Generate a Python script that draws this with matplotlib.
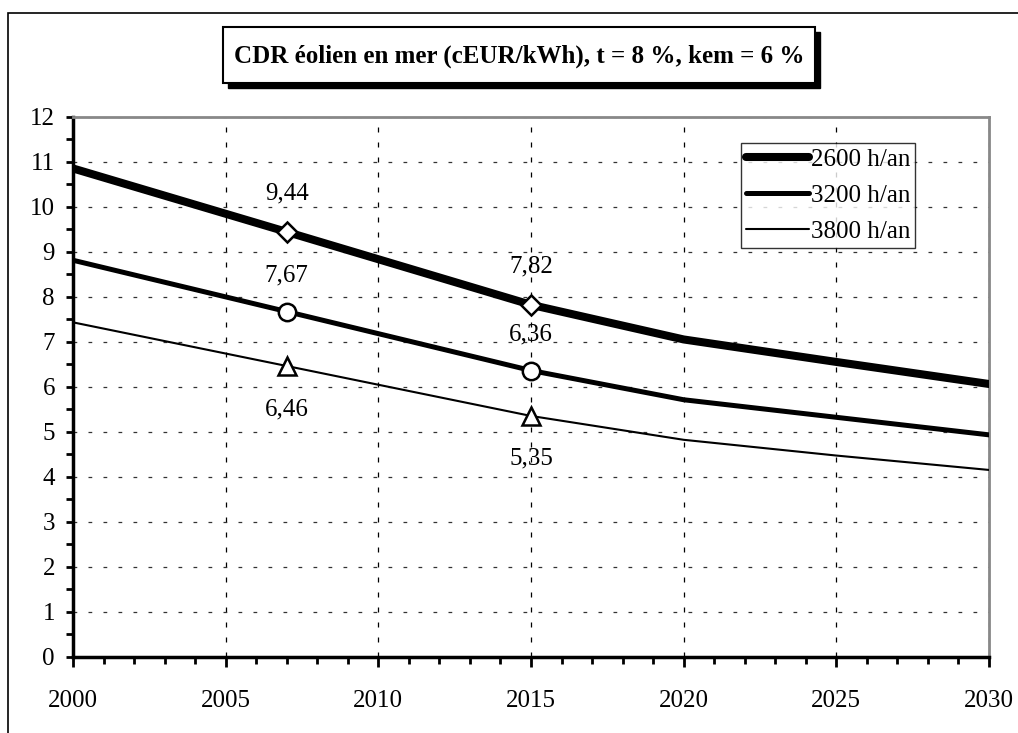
import matplotlib
matplotlib.use('Agg')
import matplotlib.pyplot as plt
from matplotlib.patches import Rectangle
from matplotlib.ticker import MultipleLocator

plt.rcParams['font.family'] = ['Liberation Serif', 'DejaVu Serif']

# données
annees = [2000, 2007, 2015, 2020, 2025, 2030]
cdr_2600 = [10.85, 9.44, 7.82, 7.05, 6.55, 6.06]
cdr_3200 = [8.81, 7.67, 6.36, 5.71, 5.32, 4.93]
cdr_3800 = [7.43, 6.46, 5.35, 4.82, 4.47, 4.15]
series_labels = ['2600 h/an', '3200 h/an', '3800 h/an']
annees_marquees = [2007, 2015]
titre = 'CDR éolien en mer (cEUR/kWh), t = 8 %, kem = 6 %'

W, H = 1018, 733
fig = plt.figure(figsize=(W / 100, H / 100), dpi=100)

# cadre extérieur (coupé à droite et en bas)
fig.patches.append(Rectangle((8 / W, -0.1), 1.2, (H - 12.7) / H + 0.1,
                             transform=fig.transFigure, fill=False,
                             edgecolor='black', linewidth=1.2))

ax = fig.add_axes([73 / W, (H - 656.7) / H, (989 - 73) / W, (656.7 - 116.7) / H])

styles = [
    (cdr_2600, 5.8, 'D', 10),
    (cdr_3200, 3.6, 'o', 12.5),
    (cdr_3800, 1.5, '^', 13),
]
for (vals, lw, mk, ms), lab in zip(styles, series_labels):
    ax.plot(annees, vals, color='black', linewidth=lw, label=lab,
            solid_capstyle='round', solid_joinstyle='round', zorder=3)
    xs = [a for a in annees if a in annees_marquees]
    ys = [v for a, v in zip(annees, vals) if a in annees_marquees]
    ax.plot(xs, ys, linestyle='none', marker=mk, markersize=ms,
            markerfacecolor='white', markeredgecolor='black',
            markeredgewidth=1.8, zorder=4)

# étiquettes des valeurs
offsets = {
    '2600 h/an': 38,
    '3200 h/an': 36,
    '3800 h/an': -43,
}
for (vals, _, _, _), lab in zip(styles, series_labels):
    for a, v in zip(annees, vals):
        if a in annees_marquees:
            ax.annotate(f'{v:.2f}'.replace('.', ','), (a, v),
                        xytext=(0, offsets[lab]), textcoords='offset pixels',
                        ha='center', va='center', fontsize=18, zorder=5)

ax.set_xlim(2000, 2030)
ax.set_ylim(0, 12)
ax.xaxis.set_major_locator(MultipleLocator(5))
ax.xaxis.set_minor_locator(MultipleLocator(1))
ax.yaxis.set_major_locator(MultipleLocator(1))
ax.yaxis.set_minor_locator(MultipleLocator(0.5))

ax.tick_params(axis='x', which='major', direction='out', length=7, width=2,
               labelsize=18, pad=17)
ax.tick_params(axis='x', which='minor', direction='out', length=5, width=2)
ax.tick_params(axis='y', which='major', direction='out', length=5, width=2,
               labelsize=18, pad=8)
ax.tick_params(axis='y', which='minor', direction='out', length=5, width=2)

ax.grid(axis='x', which='major', color='black', linestyle=(0, (4, 8)),
        linewidth=0.9)
ax.grid(axis='y', which='major', color='#333333', linestyle=(0, (3, 9)),
        linewidth=0.9)

for s in ['left', 'bottom']:
    ax.spines[s].set_linewidth(2.5)
    ax.spines[s].set_color('black')
for s in ['top', 'right']:
    ax.spines[s].set_linewidth(2)
    ax.spines[s].set_color('#888888')

leg = ax.legend(loc='upper left', bbox_to_anchor=(741 / W, (H - 143) / H),
                bbox_transform=fig.transFigure, borderaxespad=0,
                fontsize=18, frameon=True, fancybox=False, handlelength=2.5,
                handletextpad=0.1, labelspacing=0.55, borderpad=0.2)
leg.get_frame().set_edgecolor('black')
leg.get_frame().set_linewidth(1)

# boîte du titre avec ombre
fig.patches.append(Rectangle((228 / W, (H - 88) / H), (815 - 223) / W, (83 - 27) / H,
                             transform=fig.transFigure, facecolor='black',
                             edgecolor='black'))
fig.patches.append(Rectangle((223 / W, (H - 83) / H), (815 - 223) / W, (83 - 27) / H,
                             transform=fig.transFigure, facecolor='white',
                             edgecolor='black', linewidth=1.5))
fig.text(519 / W, (H - 56) / H, titre, ha='center', va='center',
         fontsize=18, fontweight='bold')

fig.savefig('out.png', dpi=100)
